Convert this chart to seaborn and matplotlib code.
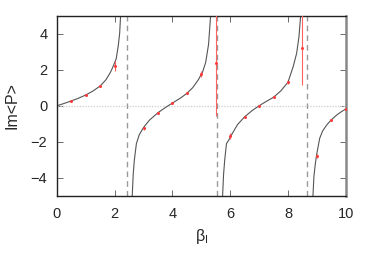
import matplotlib
matplotlib.use("Agg")
import matplotlib.pyplot as plt
import seaborn as sns
import pandas as pd

# theory curve, one list per branch
b1_x = [0.0, 0.25, 0.5, 0.75, 1.0, 1.25, 1.5, 1.7, 1.85, 1.95, 2.05, 2.12, 2.17, 2.21]
b1_y = [0.0, 0.13, 0.27, 0.42, 0.6, 0.82, 1.1, 1.45, 1.85, 2.2, 2.6, 3.3, 4.0, 5.2]
b2_x = [2.6, 2.64, 2.68, 2.75, 2.85, 3.0, 3.2, 3.5, 3.8, 4.0, 4.3, 4.5, 4.7, 4.9, 5.05, 5.15, 5.25, 5.33]
b2_y = [-5.2, -3.8, -3.0, -2.1, -1.6, -1.2, -0.8, -0.38, -0.05, 0.15, 0.45, 0.69, 1.0, 1.45, 1.9, 2.4, 3.4, 5.2]
b3_x = [5.73, 5.77, 5.81, 5.87, 5.95, 6.05, 6.25, 6.5, 6.75, 7.0, 7.25, 7.5, 7.75, 8.0, 8.18, 8.3, 8.38, 8.45]
b3_y = [-5.2, -3.8, -3.0, -2.1, -1.9, -1.6, -1.05, -0.61, -0.28, 0.0, 0.24, 0.47, 0.82, 1.3, 2.16, 2.9, 3.8, 5.2]
b4_x = [8.86, 8.9, 8.95, 9.0, 9.1, 9.2, 9.35, 9.5, 9.7, 9.85, 10.0]
b4_y = [-5.2, -3.9, -3.2, -2.65, -1.8, -1.4, -1.05, -0.78, -0.5, -0.33, -0.18]

# poles of the curve
poles = [2.41, 5.54, 8.66]

# measured points
beta = [0.5, 1.0, 1.5, 2.0, 3.0, 3.5, 4.0, 4.5, 5.0, 5.5, 6.0, 6.5, 7.0, 7.5, 8.0, 8.5, 9.0, 9.5, 10.0]
im_p = [0.28, 0.59, 1.11, 2.22, -1.25, -0.39, 0.15, 0.69, 1.76, 2.35, -1.68, -0.61, 0.0, 0.48, 1.29, 3.18, -2.79, -0.79, -0.18]
im_err = [0.05, 0.05, 0.06, 0.28, 0.08, 0.05, 0.04, 0.05, 0.18, 2.92, 0.15, 0.05, 0.04, 0.05, 0.08, 2.05, 0.12, 0.05, 0.05]

sns.set_theme(style="ticks")
plt.rcParams["font.family"] = ["Liberation Sans", "DejaVu Sans"]
plt.rcParams["mathtext.fontset"] = "custom"
plt.rcParams["mathtext.rm"] = "Liberation Sans"
plt.rcParams["mathtext.it"] = "Liberation Sans"

fig = plt.figure(figsize=(3.74, 2.62), dpi=100)
ax = fig.add_axes([0.1524, 0.2519, 0.7719, 0.6889])

ax.axhline(0, color="#d4d4d4", lw=1.0, ls=(0, (1, 1)), zorder=1)
for p in poles:
    ax.axvline(p, color="#999999", lw=1.0, ls=(0, (4, 3)), zorder=1)

branches = [(b1_x, b1_y), (b2_x, b2_y), (b3_x, b3_y), (b4_x, b4_y)]
for bx, by in branches:
    df = pd.DataFrame({"x": bx, "y": by})
    sns.lineplot(data=df, x="x", y="y", sort=False, color="#555555", lw=0.8, ax=ax, zorder=2)

ax.errorbar(beta, im_p, yerr=im_err, fmt="o", ms=2.2, mew=0, color="#ff3b3b", ecolor="#ff6060",
            elinewidth=0.8, capsize=1.5, capthick=0.8, zorder=3)

ax.set_xlim(0, 10)
ax.set_ylim(-5, 5)
ax.set_xticks([0, 2, 4, 6, 8, 10])
ax.set_yticks([-4, -2, 0, 2, 4])
ax.tick_params(direction="in", top=True, right=True, length=4, width=0.6,
               labelsize=10.5, color="#555555")
ax.tick_params(axis="x", pad=8)
ax.tick_params(axis="y", pad=7)
for s in ["left", "top", "bottom"]:
    ax.spines[s].set_linewidth(1.0)
    ax.spines[s].set_color("#222222")
ax.spines["right"].set_linewidth(1.8)
ax.spines["right"].set_color("#888888")

ax.set_xlabel(r"$\beta_{\rm I}$", fontsize=11.5, labelpad=4)
ax.set_ylabel("Im<P>", fontsize=11.5, labelpad=8)

fig.savefig("out.png", dpi=100)
